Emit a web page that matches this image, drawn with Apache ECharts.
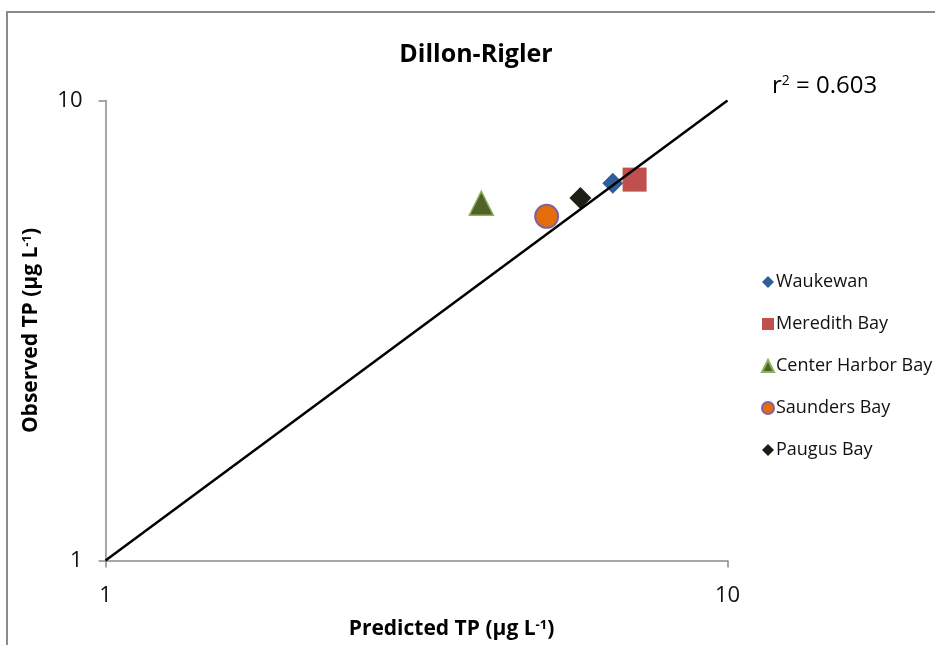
<!DOCTYPE html>
<html>
<head>
<meta charset="utf-8">
<script src="https://cdn.jsdelivr.net/npm/echarts@6/dist/echarts.min.js"></script>
<style>
  html, body { margin: 0; padding: 0; background: #fff; }
  #chart { width: 935px; height: 645px; }
</style>
</head>
<body>
<div id="chart"></div>
<script>
// Lake sites: predicted vs observed total phosphorus (µg/L)
const sites = ['Waukewan', 'Meredith Bay', 'Center Harbor Bay', 'Saunders Bay', 'Paugus Bay'];
const predictedTP = [6.54, 7.09, 4.02, 5.12, 5.80];
const observedTP  = [6.61, 6.73, 5.98, 5.60, 6.14];
const oneToOneLine = [[1, 1], [10, 10]];
const axisTicks = [1, 10];
const r2Value = '0.603';

const FONT = '"Open Sans", Lato, sans-serif';

const markerStyles = [
  { symbol: 'diamond', size: 21, color: '#2F5F9B', border: '#2F5F9B', bw: 0 },
  { symbol: 'rect', size: 24, color: '#C0504D', border: '#C0504D', bw: 0 },
  { symbol: 'triangle', size: 24, color: '#4F6228', border: '#8DB05A', bw: 1.5 },
  { symbol: 'circle', size: 23, color: '#E46C0A', border: '#8064A2', bw: 2 },
  { symbol: 'diamond', size: 22, color: '#1E1E14', border: '#1E1E14', bw: 0 }
];

const scatterSeries = sites.map((name, i) => ({
  name: name,
  type: 'scatter',
  symbol: markerStyles[i].symbol,
  symbolSize: markerStyles[i].size,
  itemStyle: {
    color: markerStyles[i].color,
    borderColor: markerStyles[i].border,
    borderWidth: markerStyles[i].bw,
    opacity: 1
  },
  z: 2,
  data: [[predictedTP[i], observedTP[i]]]
}));

const supRich = {
  sup: { fontSize: 13, fontWeight: 'bold', fontFamily: FONT, color: '#000', verticalAlign: 'top', padding: [0, 0, 9, 0] }
};

const chart = echarts.init(document.getElementById('chart'));
chart.setOption({
  backgroundColor: '#fff',
  animation: false,
  title: {
    text: 'Dillon-Rigler',
    left: 471,
    textAlign: 'center',
    top: 37,
    textStyle: { fontFamily: FONT, fontSize: 25, fontWeight: 'bold', color: '#000' }
  },
  graphic: [
    {
      type: 'rect',
      shape: { x: 7, y: 12, width: 940, height: 660 },
      style: { fill: null, stroke: '#8a8a8a', lineWidth: 2 },
      silent: true
    },
    {
      type: 'text',
      left: 772,
      top: 74,
      style: {
        text: 'r{s|2} = ' + r2Value,
        font: '24px ' + FONT,
        fill: '#000',
        rich: {
          s: { fontSize: 14, fontFamily: FONT, fill: '#000', verticalAlign: 'top', padding: [0, 0, 11, 0] }
        }
      }
    }
  ],
  legend: {
    orient: 'vertical',
    left: 756,
    top: 268,
    itemGap: 24,
    itemWidth: 12,
    itemHeight: 12,
    data: sites,
    textStyle: { fontFamily: FONT, fontSize: 18, color: '#111', padding: [0, 0, 0, -3] }
  },
  grid: { left: 105.5, right: 207.5, top: 100.5, bottom: 84.3, containLabel: false },
  xAxis: {
    type: 'log',
    logBase: 10,
    min: axisTicks[0],
    max: axisTicks[1],
    name: 'Predicted TP (μg L{sup|-1})',
    nameLocation: 'middle',
    nameGap: 58,
    nameTextStyle: { fontFamily: FONT, fontSize: 21, fontWeight: 'bold', color: '#000', rich: supRich, padding: [0, 0, 0, 70] },
    axisLine: { lineStyle: { color: '#8a8a8a', width: 1.5 } },
    axisTick: { length: 7, lineStyle: { color: '#8a8a8a', width: 1.5 } },
    axisLabel: { fontFamily: FONT, fontSize: 22, color: '#111', margin: 24 },
    splitLine: { show: false },
    minorTick: { show: false }
  },
  yAxis: {
    type: 'log',
    logBase: 10,
    min: axisTicks[0],
    max: axisTicks[1],
    name: 'Observed TP (μg L{sup|-1})',
    nameLocation: 'middle',
    nameRotate: 90,
    nameGap: 63,
    nameTextStyle: { fontFamily: FONT, fontSize: 21, fontWeight: 'bold', color: '#000', rich: supRich },
    axisLine: { lineStyle: { color: '#8a8a8a', width: 1.5 } },
    axisTick: { length: 7, lineStyle: { color: '#8a8a8a', width: 1.5 } },
    axisLabel: { fontFamily: FONT, fontSize: 22, color: '#111', margin: 23 },
    splitLine: { show: false },
    minorTick: { show: false }
  },
  series: scatterSeries.concat([{
    type: 'line',
    name: '1:1',
    data: oneToOneLine,
    symbol: 'none',
    lineStyle: { color: '#000', width: 2.5 },
    z: 5,
    silent: true
  }])
});
</script>
</body>
</html>
